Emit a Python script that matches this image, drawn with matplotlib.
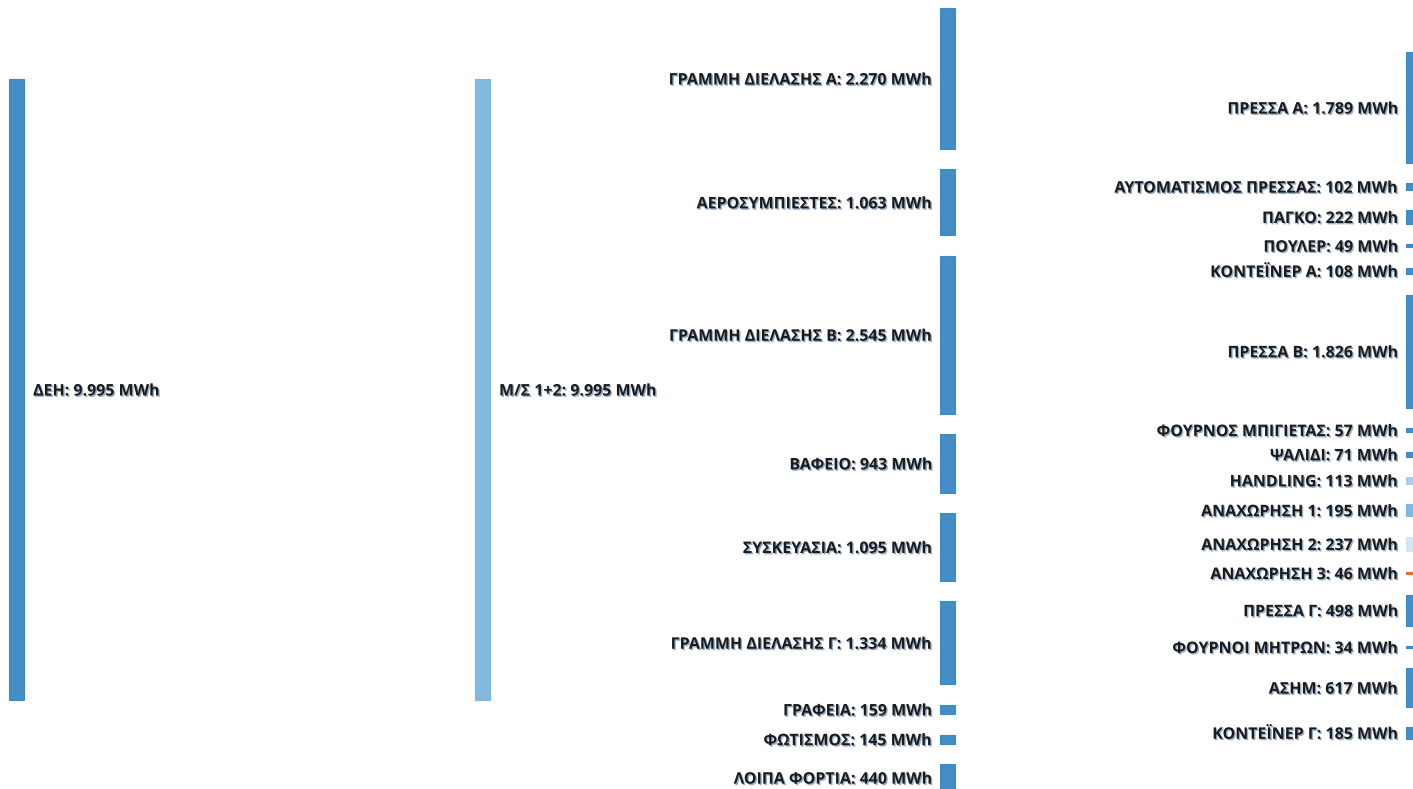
import matplotlib
matplotlib.use("Agg")
import matplotlib.pyplot as plt
from matplotlib.patches import Rectangle
import matplotlib.patheffects as pe

# --- data (MWh) ---
src_labels = ["ΔΕΗ"]
src_values = [9995]

sub_labels = ["Μ/Σ 1+2"]
sub_values = [9995]

line_labels = ["ΓΡΑΜΜΗ ΔΙΕΛΑΣΗΣ Α", "ΑΕΡΟΣΥΜΠΙΕΣΤΕΣ", "ΓΡΑΜΜΗ ΔΙΕΛΑΣΗΣ Β", "ΒΑΦΕΙΟ",
               "ΣΥΣΚΕΥΑΣΙΑ", "ΓΡΑΜΜΗ ΔΙΕΛΑΣΗΣ Γ", "ΓΡΑΦΕΙΑ", "ΦΩΤΙΣΜΟΣ", "ΛΟΙΠΑ ΦΟΡΤΙΑ"]
line_values = [2270, 1063, 2545, 943, 1095, 1334, 159, 145, 440]

mach_labels = ["ΠΡΕΣΣΑ Α", "ΑΥΤΟΜΑΤΙΣΜΟΣ ΠΡΕΣΣΑΣ", "ΠΑΓΚΟ", "ΠΟΥΛΕΡ", "ΚΟΝΤΕΪΝΕΡ Α",
               "ΠΡΕΣΣΑ Β", "ΦΟΥΡΝΟΣ ΜΠΙΓΙΕΤΑΣ", "ΨΑΛΙΔΙ", "HANDLING", "ΑΝΑΧΩΡΗΣΗ 1",
               "ΑΝΑΧΩΡΗΣΗ 2", "ΑΝΑΧΩΡΗΣΗ 3", "ΠΡΕΣΣΑ Γ", "ΦΟΥΡΝΟΙ ΜΗΤΡΩΝ", "ΑΣΗΜ",
               "ΚΟΝΤΕΪΝΕΡ Γ"]
mach_values = [1789, 102, 222, 49, 108, 1826, 57, 71, 113, 195, 237, 46, 498, 34, 617, 185]

blue = "#3b87c3"
mach_colors = [blue] * 8 + ["#a9cce9", "#7db4de", "#d3e4f4", "#e8642a"] + [blue] * 4

# --- layout (pixel space) ---
W, H = 1413, 789
scale = 621 / 9995.0
gap = 20.3
node_w = 15

fig = plt.figure(figsize=(W / 100, H / 100), dpi=100)
ax = fig.add_axes([0, 0, 1, 1])
ax.set_xlim(0, W)
ax.set_ylim(H, 0)
ax.axis("off")

txt_fx = [pe.SimplePatchShadow(offset=(1.0, -1.0), shadow_rgbFace="#4f79a8", alpha=0.6),
          pe.Normal()]


def fmt(v):
    return "{:,}".format(v).replace(",", ".") + " MWh"


def draw_column(labels, values, colors, x, y0, side):
    y = y0
    for lab, v, c in zip(labels, values, colors):
        h = v * scale
        ax.add_patch(Rectangle((x, y), node_w, h, facecolor=c, edgecolor=c,
                               linewidth=0.8, alpha=0.95))
        if side == "right":
            tx, ha = x + node_w + 9, "left"
        else:
            tx, ha = x - 8, "right"
        ax.text(tx, y + h / 2 + 2, lab + ": " + fmt(v), ha=ha, va="center",
                fontsize=11.5, fontweight="bold", color="#1b1b1b",
                family=["Open Sans", "DejaVu Sans"], path_effects=txt_fx)
        y += h + gap


draw_column(src_labels, src_values, [blue], 9, 79, "right")
draw_column(sub_labels, sub_values, ["#7ab4dc"], 475, 79, "right")
draw_column(line_labels, line_values, [blue] * len(line_values), 940, 8, "left")
draw_column(mach_labels, mach_values, mach_colors, 1406, 52, "left")

fig.savefig("out.png", dpi=100)
